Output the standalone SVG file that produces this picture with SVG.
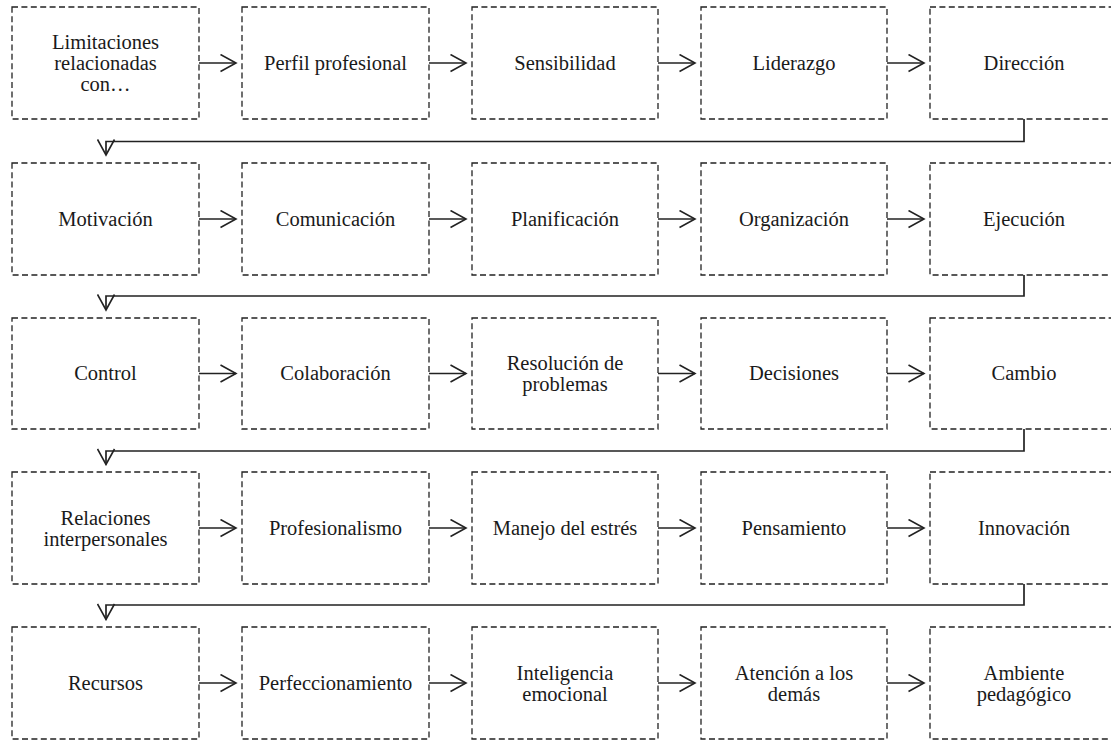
<svg xmlns="http://www.w3.org/2000/svg" width="1111" height="740" viewBox="0 0 1111 740" font-family="Liberation Serif, Times New Roman, serif">
<style>
.box{fill:none;stroke:#222;stroke-width:1.3;stroke-dasharray:6 3.4}
text{font-family:"Liberation Serif","Times New Roman",serif;font-size:20.5px;fill:#1a1a1a;text-anchor:middle}
.con{fill:none;stroke:#222;stroke-width:1.7;marker-end:url(#ah)}
</style>
<defs>
<marker id="ah" markerUnits="userSpaceOnUse" viewBox="0 0 18 19" refX="16.5" refY="9.5" markerWidth="18" markerHeight="19" orient="auto">
<path d="M1,1 L16.5,9.5 L1,18" fill="none" stroke="#222" stroke-width="1.6"/>
</marker>
</defs>
<rect width="1111" height="740" fill="#fff"/>
<g id="connectors">
<path class="con" d="M199,63 H236"/>
<path class="con" d="M429,63 H466"/>
<path class="con" d="M658,63 H695"/>
<path class="con" d="M887,63 H924"/>
<path class="con" d="M1024,119 V141.5 H106 V155"/>
<path class="con" d="M199,219 H236"/>
<path class="con" d="M429,219 H466"/>
<path class="con" d="M658,219 H695"/>
<path class="con" d="M887,219 H924"/>
<path class="con" d="M1024,275 V296 H106 V310"/>
<path class="con" d="M199,373.5 H236"/>
<path class="con" d="M429,373.5 H466"/>
<path class="con" d="M658,373.5 H695"/>
<path class="con" d="M887,373.5 H924"/>
<path class="con" d="M1024,429 V451 H106 V464.5"/>
<path class="con" d="M199,528 H236"/>
<path class="con" d="M429,528 H466"/>
<path class="con" d="M658,528 H695"/>
<path class="con" d="M887,528 H924"/>
<path class="con" d="M1024,584 V605 H106 V619.5"/>
<path class="con" d="M199,683 H236"/>
<path class="con" d="M429,683 H466"/>
<path class="con" d="M658,683 H695"/>
<path class="con" d="M887,683 H924"/>
</g>
<g id="n1"><rect class="box" x="12" y="7" width="187" height="112"/><text x="105.5"><tspan x="105.5" y="48.5">Limitaciones</tspan><tspan x="105.5" y="69.5">relacionadas</tspan><tspan x="105.5" y="90.5">con…</tspan></text></g>
<g id="n2"><rect class="box" x="242" y="7" width="187" height="112"/><text x="335.5" y="69.5">Perfil profesional</text></g>
<g id="n3"><rect class="box" x="472" y="7" width="186" height="112"/><text x="565" y="69.5">Sensibilidad</text></g>
<g id="n4"><rect class="box" x="701" y="7" width="186" height="112"/><text x="794" y="69.5">Liderazgo</text></g>
<g id="n5"><rect class="box" x="930" y="7" width="188" height="112"/><text x="1024" y="69.5">Dirección</text></g>

<g id="n6"><rect class="box" x="12" y="163" width="187" height="112"/><text x="105.5" y="225.5">Motivación</text></g>
<g id="n7"><rect class="box" x="242" y="163" width="187" height="112"/><text x="335.5" y="225.5">Comunicación</text></g>
<g id="n8"><rect class="box" x="472" y="163" width="186" height="112"/><text x="565" y="225.5">Planificación</text></g>
<g id="n9"><rect class="box" x="701" y="163" width="186" height="112"/><text x="794" y="225.5">Organización</text></g>
<g id="n10"><rect class="box" x="930" y="163" width="188" height="112"/><text x="1024" y="225.5">Ejecución</text></g>

<g id="n11"><rect class="box" x="12" y="318" width="187" height="111"/><text x="105.5" y="380">Control</text></g>
<g id="n12"><rect class="box" x="242" y="318" width="187" height="111"/><text x="335.5" y="380">Colaboración</text></g>
<g id="n13"><rect class="box" x="472" y="318" width="186" height="111"/><text x="565"><tspan x="565" y="369.5">Resolución de</tspan><tspan x="565" y="390.5">problemas</tspan></text></g>
<g id="n14"><rect class="box" x="701" y="318" width="186" height="111"/><text x="794" y="380">Decisiones</text></g>
<g id="n15"><rect class="box" x="930" y="318" width="188" height="111"/><text x="1024" y="380">Cambio</text></g>

<g id="n16"><rect class="box" x="12" y="472" width="187" height="112"/><text x="105.5"><tspan x="105.5" y="524.5">Relaciones</tspan><tspan x="105.5" y="545.5">interpersonales</tspan></text></g>
<g id="n17"><rect class="box" x="242" y="472" width="187" height="112"/><text x="335.5" y="535">Profesionalismo</text></g>
<g id="n18"><rect class="box" x="472" y="472" width="186" height="112"/><text x="565" y="535">Manejo del estrés</text></g>
<g id="n19"><rect class="box" x="701" y="472" width="186" height="112"/><text x="794" y="535">Pensamiento</text></g>
<g id="n20"><rect class="box" x="930" y="472" width="188" height="112"/><text x="1024" y="535">Innovación</text></g>

<g id="n21"><rect class="box" x="12" y="627" width="187" height="112"/><text x="105.5" y="690">Recursos</text></g>
<g id="n22"><rect class="box" x="242" y="627" width="187" height="112"/><text x="335.5" y="690">Perfeccionamiento</text></g>
<g id="n23"><rect class="box" x="472" y="627" width="186" height="112"/><text x="565"><tspan x="565" y="679.5">Inteligencia</tspan><tspan x="565" y="700.5">emocional</tspan></text></g>
<g id="n24"><rect class="box" x="701" y="627" width="186" height="112"/><text x="794"><tspan x="794" y="679.5">Atención a los</tspan><tspan x="794" y="700.5">demás</tspan></text></g>
<g id="n25"><rect class="box" x="930" y="627" width="188" height="112"/><text x="1024"><tspan x="1024" y="679.5">Ambiente</tspan><tspan x="1024" y="700.5">pedagógico</tspan></text></g>
</svg>
